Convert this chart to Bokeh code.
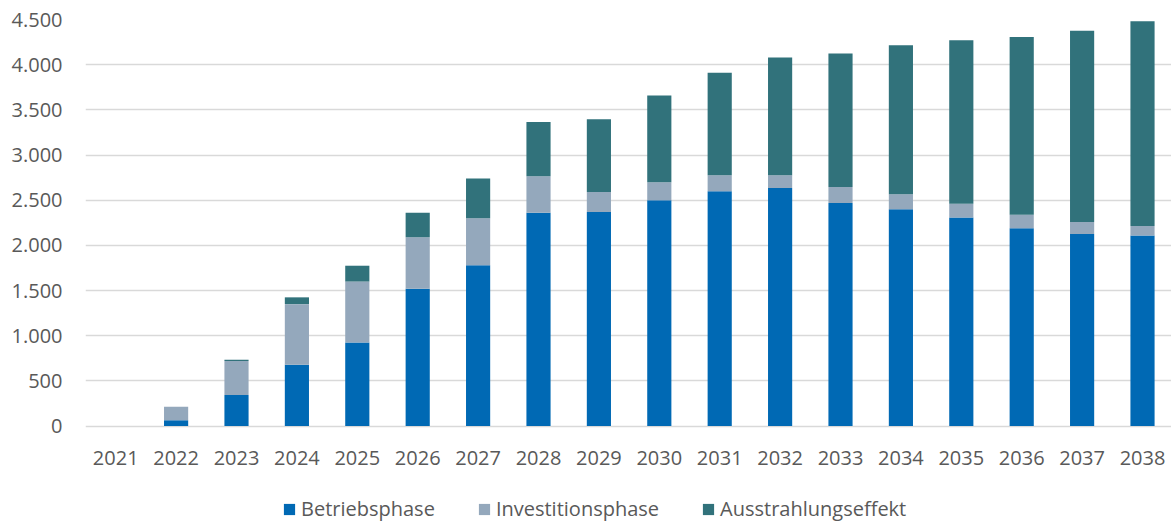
from bokeh.plotting import figure
from bokeh.models import ColumnDataSource, Range1d, FixedTicker, Legend, LegendItem, LabelSet
from bokeh.core.properties import value
from bokeh.embed import file_html
from bokeh.resources import INLINE

years = [2021, 2022, 2023, 2024, 2025, 2026, 2027, 2028, 2029, 2030,
         2031, 2032, 2033, 2034, 2035, 2036, 2037, 2038]
betriebsphase = [0, 65, 345, 680, 925, 1520, 1780, 2360, 2370, 2500,
                 2600, 2635, 2470, 2400, 2310, 2190, 2125, 2110]
investitionsphase = [0, 150, 375, 670, 675, 570, 520, 405, 220, 200,
                     175, 140, 175, 165, 150, 150, 135, 105]
ausstrahlungseffekt = [0, 0, 15, 75, 175, 270, 440, 600, 805, 960,
                       1135, 1305, 1480, 1650, 1810, 1965, 2115, 2265]
series_names = ["Betriebsphase", "Investitionsphase", "Ausstrahlungseffekt"]
colors = ["#0069B4", "#94A8BC", "#31727B"]
y_ticks = [0, 500, 1000, 1500, 2000, 2500, 3000, 3500, 4000, 4500]

FONT = "Open Sans"
TXT = "#595959"

source = ColumnDataSource(dict(
    year=years,
    year_label=[str(y) for y in years],
    base=[0] * len(years),
    Betriebsphase=betriebsphase,
    Investitionsphase=investitionsphase,
    Ausstrahlungseffekt=ausstrahlungseffekt,
))

# frame extends below zero to leave room for the category labels and legend
p = figure(width=1171, height=525, frame_width=1086, frame_height=506,
           output_backend="svg", toolbar_location=None,
           x_range=Range1d(2020.5, 2038.48), y_range=Range1d(-1100, 4500),
           min_border_left=85, min_border_top=19, min_border_right=0,
           min_border_bottom=0)
p.outline_line_color = None

renderers = p.vbar_stack(series_names, x="year", width=0.4, source=source,
                         color=colors, line_color=None)

# y axis
p.yaxis.ticker = FixedTicker(ticks=y_ticks)
p.yaxis.major_label_overrides = {t: f"{t:,}".replace(",", ".") for t in y_ticks}
p.yaxis.axis_line_color = None
p.yaxis.major_tick_line_color = None
p.yaxis.minor_tick_line_color = None
p.yaxis.major_tick_out = 0
p.yaxis.major_tick_in = 0
p.yaxis.major_label_text_font = FONT
p.yaxis.major_label_text_font_size = "20px"
p.yaxis.major_label_text_color = TXT
p.yaxis.major_label_standoff = 23

# x axis: category labels under the zero line
p.xaxis.visible = False
p.add_layout(LabelSet(x="year", y="base", text="year_label", source=source,
                      y_offset=-32, text_align="center", text_baseline="middle",
                      text_font=value(FONT), text_font_size=value("20px"),
                      text_color=TXT))

p.xgrid.grid_line_color = None
p.ygrid.grid_line_color = "#D9D9D9"
p.ygrid.grid_line_width = 1.5

legend = Legend(items=[LegendItem(label=n, renderers=[r]) for n, r in zip(series_names, renderers)],
                orientation="horizontal", location=(197, 3))
legend.label_text_font = FONT
legend.label_text_font_size = "20px"
legend.label_text_color = TXT
legend.glyph_width = 14
legend.glyph_height = 14
legend.label_standoff = 5
legend.spacing = 42
legend.padding = 0
legend.margin = 0
legend.border_line_color = None
legend.background_fill_alpha = 0
p.add_layout(legend, "center")

open("out.html", "w").write(file_html(p, INLINE))
